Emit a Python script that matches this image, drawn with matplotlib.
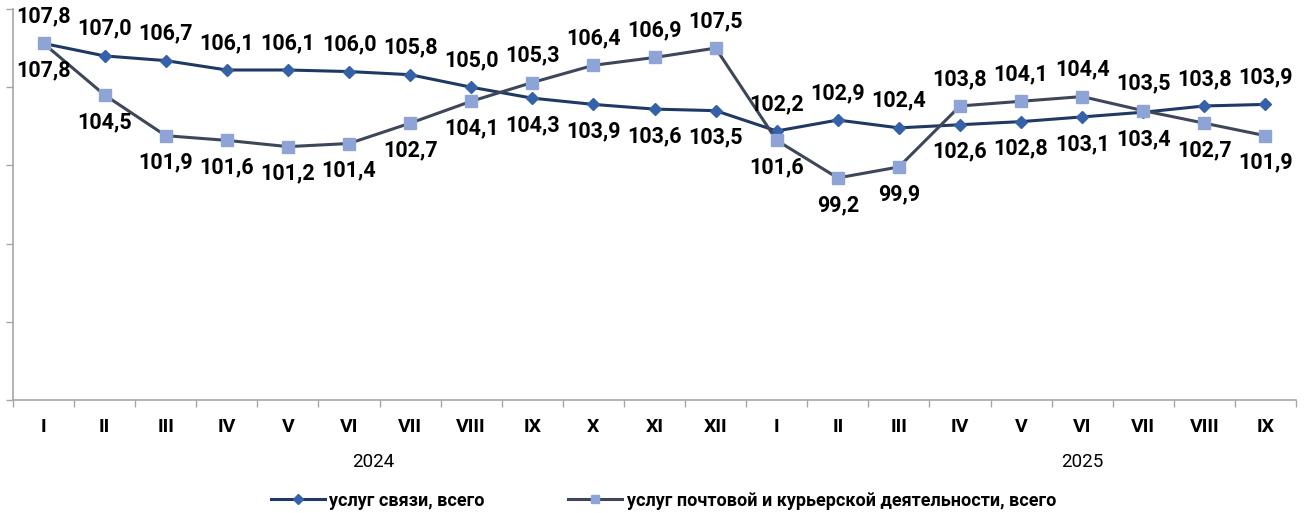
import matplotlib
matplotlib.use('Agg')
import matplotlib.pyplot as plt
import matplotlib.transforms as mtransforms
import numpy as np

months = ['I', 'II', 'III', 'IV', 'V', 'VI', 'VII', 'VIII', 'IX', 'X', 'XI', 'XII',
          'I', 'II', 'III', 'IV', 'V', 'VI', 'VII', 'VIII', 'IX']
years = ['2024', '2025']
series_names = ['услуг связи, всего', 'услуг почтовой и курьерской деятельности, всего']

svyaz = [107.8, 107.0, 106.7, 106.1, 106.1, 106.0, 105.8, 105.0, 104.3, 103.9, 103.6, 103.5,
         102.2, 102.9, 102.4, 102.6, 102.8, 103.1, 103.4, 103.8, 103.9]
pochta = [107.8, 104.5, 101.9, 101.6, 101.2, 101.4, 102.7, 104.1, 105.3, 106.4, 106.9, 107.5,
          101.6, 99.2, 99.9, 103.8, 104.1, 104.4, 103.5, 102.7, 101.9]

# label placement: 'a' above, 'b' below
svyaz_pos = list('aaaaaaaa' + 'bbbb' + 'aaa' + 'bbbb' + 'aa')
pochta_pos = list('bbbbbbbb' + 'aaaa' + 'bbb' + 'aaaa' + 'bb')

FONT = ['Roboto', 'DejaVu Sans']

fig = plt.figure(figsize=(13.06, 5.13), dpi=100)
ax = fig.add_axes([13 / 1306, 1 - 400 / 513, 1283 / 1306, 391 / 513])

x = np.arange(len(months))
ax.plot(x, svyaz, color='#1F3864', lw=2.2, marker='D', ms=6.5,
        mfc='#3561A8', mec='#3561A8', label=series_names[0], zorder=3)
ax.plot(x, pochta, color='#3E4759', lw=2.2, marker='s', ms=8,
        mfc='#8EA4D6', mec='#8EA4D6', label=series_names[1], zorder=4)

def fmt(v):
    return f'{v:.1f}'.replace('.', ',')

for vals, pos in ((svyaz, svyaz_pos), (pochta, pochta_pos)):
    for xi, v, p in zip(x, vals, pos):
        dy = 19.5 if p == 'a' else -19.5
        ax.annotate(fmt(v), (xi, v), xytext=(0, dy), textcoords='offset points',
                    ha='center', va='center', fontsize=15.5, fontweight='bold',
                    family=FONT, color='black', zorder=5, annotation_clip=False)

ax.set_xlim(-0.5, 20.5)
ax.set_ylim(85, 110)
ax.set_yticks(np.arange(85, 111, 5))
ax.set_yticklabels([])
ax.tick_params(axis='y', length=5, color='#A6A6A6', width=1)

ax.set_xticks(x)
ax.set_xticklabels(months, fontsize=14, fontweight='bold', family=FONT)
ax.tick_params(axis='x', which='major', length=0, pad=13)
ax.set_xticks(np.arange(-0.5, 21, 1), minor=True)
ax.tick_params(axis='x', which='minor', length=5, color='#A6A6A6', width=1)

for s in ('top', 'right'):
    ax.spines[s].set_visible(False)
for s in ('left', 'bottom'):
    ax.spines[s].set_color('#A6A6A6')
    ax.spines[s].set_linewidth(1.2)

trans = mtransforms.blended_transform_factory(ax.transData, fig.transFigure)
ax.text(5.4, 1 - 462 / 513, years[0], transform=trans, ha='center', va='center',
        fontsize=13.5, family=FONT)
ax.text(17.0, 1 - 462 / 513, years[1], transform=trans, ha='center', va='center',
        fontsize=13.5, family=FONT)

fig.legend(loc='center', bbox_to_anchor=(0.508, 0.024), ncol=2, frameon=False,
           prop={'family': FONT, 'weight': 'bold', 'size': 13},
           handlelength=3.0, columnspacing=4.6, handletextpad=0.25, markerscale=0.8)

fig.savefig('out.png', dpi=100)
